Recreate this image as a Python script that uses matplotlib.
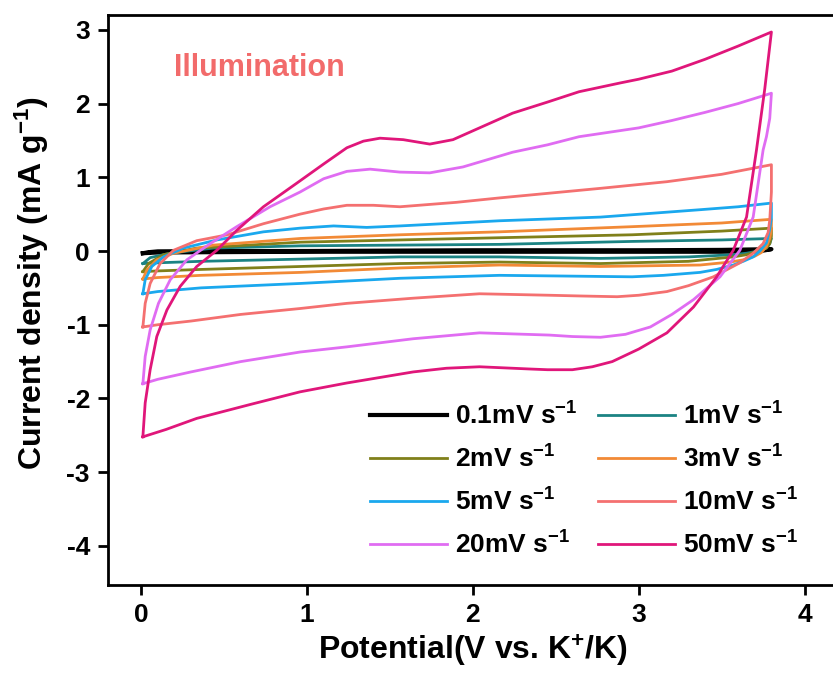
import matplotlib
matplotlib.use('Agg')
import matplotlib.pyplot as plt
import numpy as np

plt.rcParams['font.family'] = ['Liberation Sans', 'DejaVu Sans']
plt.rcParams['font.weight'] = 'bold'
plt.rcParams['axes.labelweight'] = 'bold'
plt.rcParams['axes.unicode_minus'] = False
plt.rcParams['mathtext.fontset'] = 'custom'
plt.rcParams['mathtext.rm'] = 'Liberation Sans:bold'
plt.rcParams['mathtext.bf'] = 'Liberation Sans:bold'
plt.rcParams['mathtext.default'] = 'rm'

# Данные: анодная (вверх) и катодная (вниз) ветви для каждой скорости развертки
labels = ['0.1mV s$^{-1}$', '1mV s$^{-1}$', '2mV s$^{-1}$', '3mV s$^{-1}$',
          '5mV s$^{-1}$', '10mV s$^{-1}$', '20mV s$^{-1}$', '50mV s$^{-1}$']
colors = ['#000000', '#1b8383', '#80801a', '#f28a36',
          '#1aa8ee', '#f47070', '#e06cf2', '#e0167a']

# 0.1 mV/s
up_x_01 = [0.01, 0.05, 0.1, 0.5, 1.0, 2.0, 3.0, 3.5, 3.8]
up_y_01 = [-0.03, -0.015, -0.005, 0.0, 0.0, 0.01, 0.01, 0.015, 0.025]
dn_x_01 = [3.8, 3.75, 3.7, 3.5, 3.0, 2.0, 1.0, 0.5, 0.1, 0.01]
dn_y_01 = [0.025, 0.005, -0.005, -0.01, -0.01, -0.01, -0.01, -0.015, -0.02, -0.03]

# 1 mV/s
up_x_1 = [0.01, 0.054, 0.175, 0.436, 0.96, 1.56, 2.16, 2.96, 3.5, 3.8]
up_y_1 = [-0.17, -0.09, -0.03, 0.04, 0.07, 0.08, 0.09, 0.13, 0.15, 0.17]
dn_x_1 = [3.8, 3.79, 3.77, 3.72, 3.65, 3.57, 3.3, 2.77, 2.16, 1.56, 0.96, 0.36, 0.1, 0.01]
dn_y_1 = [0.17, 0.1, 0.04, 0.0, -0.03, -0.05, -0.08, -0.1, -0.08, -0.08, -0.11, -0.14, -0.16, -0.17]

# 2 mV/s
up_x_2 = [0.01, 0.044, 0.134, 0.335, 0.96, 1.56, 2.16, 2.96, 3.5, 3.8]
up_y_2 = [-0.28, -0.17, -0.05, 0.04, 0.12, 0.15, 0.18, 0.22, 0.27, 0.31]
dn_x_2 = [3.8, 3.8, 3.79, 3.77, 3.72, 3.65, 3.57, 3.3, 2.77, 2.16, 1.56, 0.96, 0.36, 0.1, 0.01]
dn_y_2 = [0.31, 0.2, 0.1, 0.04, 0.0, -0.05, -0.08, -0.14, -0.17, -0.15, -0.17, -0.21, -0.25, -0.27, -0.28]

# 3 mV/s
up_x_3 = [0.01, 0.034, 0.094, 0.195, 0.436, 0.96, 1.56, 2.16, 2.96, 3.5, 3.8]
up_y_3 = [-0.38, -0.26, -0.12, -0.03, 0.08, 0.17, 0.22, 0.26, 0.33, 0.38, 0.43]
dn_x_3 = [3.8, 3.8, 3.79, 3.77, 3.74, 3.7, 3.63, 3.55, 3.37, 2.77, 2.16, 1.56, 0.96, 0.36, 0.1, 0.01]
dn_y_3 = [0.43, 0.3, 0.17, 0.06, -0.02, -0.07, -0.12, -0.15, -0.19, -0.21, -0.19, -0.23, -0.29, -0.33, -0.36, -0.38]

# 5 mV/s
up_x_5 = [0.01, 0.024, 0.064, 0.134, 0.255, 0.456, 0.737, 0.958, 1.16, 1.36, 1.56, 2.16,
          2.77, 3.37, 3.6, 3.8]
up_y_5 = [-0.58, -0.39, -0.21, -0.08, 0.04, 0.15, 0.26, 0.31, 0.34, 0.32, 0.34, 0.41,
          0.46, 0.56, 0.6, 0.65]
dn_x_5 = [3.8, 3.8, 3.79, 3.77, 3.73, 3.69, 3.63, 3.57, 3.47, 3.37, 3.15, 2.96, 2.57, 2.16,
          1.56, 0.96, 0.36, 0.1, 0.01]
dn_y_5 = [0.65, 0.45, 0.3, 0.11, 0.0, -0.08, -0.14, -0.19, -0.25, -0.29, -0.33, -0.35, -0.34,
          -0.33, -0.37, -0.44, -0.5, -0.55, -0.58]

# 10 mV/s
up_x_10 = [0.01, 0.024, 0.054, 0.114, 0.195, 0.335, 0.52, 0.737, 0.958, 1.1, 1.24, 1.4,
           1.56, 1.9, 2.16, 2.77, 3.17, 3.5, 3.8]
up_y_10 = [-1.03, -0.71, -0.44, -0.17, 0.01, 0.14, 0.22, 0.37, 0.5, 0.57, 0.62, 0.62,
           0.6, 0.66, 0.72, 0.85, 0.94, 1.04, 1.17]
dn_x_10 = [3.8, 3.8, 3.79, 3.78, 3.75, 3.69, 3.61, 3.45, 3.3, 3.17, 3.0, 2.87, 2.65, 2.46,
           2.04, 1.64, 1.24, 0.958, 0.6, 0.3, 0.1, 0.01]
dn_y_10 = [1.17, 0.8, 0.42, 0.25, 0.1, -0.03, -0.16, -0.35, -0.47, -0.55, -0.6, -0.62, -0.61,
           -0.6, -0.58, -0.64, -0.71, -0.78, -0.86, -0.95, -1.0, -1.03]

# 20 mV/s
up_x_20 = [0.01, 0.024, 0.054, 0.104, 0.175, 0.275, 0.416, 0.576, 0.777, 0.958, 1.1, 1.24,
           1.38, 1.56, 1.74, 1.94, 2.24, 2.45, 2.64, 3.0, 3.2, 3.4, 3.6, 3.8]
up_y_20 = [-1.8, -1.43, -1.07, -0.71, -0.39, -0.12, 0.1, 0.33, 0.6, 0.8, 0.98, 1.08,
           1.11, 1.07, 1.06, 1.14, 1.34, 1.44, 1.55, 1.67, 1.77, 1.88, 2.0, 2.14]
dn_x_20 = [3.8, 3.79, 3.77, 3.75, 3.69, 3.61, 3.49, 3.33, 3.2, 3.07, 2.92, 2.77, 2.6, 2.46,
           2.04, 1.64, 1.24, 0.958, 0.6, 0.3, 0.1, 0.01]
dn_y_20 = [2.14, 1.8, 1.55, 1.37, 0.46, 0.01, -0.35, -0.66, -0.86, -1.03, -1.13, -1.17, -1.16,
           -1.14, -1.11, -1.19, -1.3, -1.37, -1.5, -1.64, -1.74, -1.8]

# 50 mV/s
up_x_50 = [0.01, 0.024, 0.054, 0.094, 0.155, 0.235, 0.335, 0.456, 0.576, 0.737, 0.938,
           1.1, 1.24, 1.34, 1.44, 1.58, 1.74, 1.88, 2.04, 2.24, 2.45, 2.64, 2.89, 3.0,
           3.2, 3.4, 3.6, 3.8]
up_y_50 = [-2.52, -2.06, -1.61, -1.16, -0.8, -0.48, -0.21, 0.01, 0.28, 0.6, 0.92,
           1.18, 1.4, 1.49, 1.53, 1.51, 1.45, 1.51, 1.67, 1.87, 2.02, 2.16, 2.28, 2.33,
           2.44, 2.6, 2.78, 2.97]
dn_x_50 = [3.8, 3.76, 3.71, 3.65, 3.57, 3.47, 3.33, 3.17, 3.0, 2.84, 2.72, 2.6, 2.45, 2.34,
           2.04, 1.84, 1.64, 1.24, 0.958, 0.66, 0.335, 0.15, 0.01]
dn_y_50 = [2.97, 2.2, 1.37, 0.46, 0.01, -0.35, -0.76, -1.11, -1.33, -1.5, -1.57, -1.61, -1.61,
           -1.6, -1.57, -1.59, -1.64, -1.79, -1.91, -2.08, -2.27, -2.42, -2.52]

curves = [
    (up_x_01, up_y_01, dn_x_01, dn_y_01),
    (up_x_1, up_y_1, dn_x_1, dn_y_1),
    (up_x_2, up_y_2, dn_x_2, dn_y_2),
    (up_x_3, up_y_3, dn_x_3, dn_y_3),
    (up_x_5, up_y_5, dn_x_5, dn_y_5),
    (up_x_10, up_y_10, dn_x_10, dn_y_10),
    (up_x_20, up_y_20, dn_x_20, dn_y_20),
    (up_x_50, up_y_50, dn_x_50, dn_y_50),
]

fig = plt.figure(figsize=(8.33, 6.75), dpi=100)
ax = fig.add_axes([0.1297, 0.1333, 0.876, 0.8444])

lines = []
for (ux, uy, dx, dy), lab, col in zip(curves, labels, colors):
    lw = 3 if col == '#000000' else 2
    ln, = ax.plot(ux + dx, uy + dy, color=col, lw=lw, label=lab)
    lines.append(ln)

ax.set_xlim(-0.2, 4.2)
ax.set_ylim(-4.53, 3.2)
ax.set_xticks([0, 1, 2, 3, 4])
ax.set_yticks([-4, -3, -2, -1, 0, 1, 2, 3])
ax.tick_params(direction='out', length=7, width=2, labelsize=19, pad=6)
for s in ax.spines.values():
    s.set_linewidth(2)

ax.set_xlabel('Potential(V vs. K$^{+}$/K)', fontsize=23, fontweight='bold', labelpad=4)
ax.set_ylabel('Current density (mA g$^{-1}$)', fontsize=23, fontweight='bold')
ax.yaxis.set_label_coords(-0.078, 0.53)

ax.text(0.2, 2.48, 'Illumination', color='#f26b6b', fontsize=22,
        fontweight='bold', va='center', ha='left')

# легенда заполняется по строкам, как в оригинале
order = [0, 2, 4, 6, 1, 3, 5, 7]
ax.legend([lines[i] for i in order], [labels[i] for i in order],
          loc='lower right', bbox_to_anchor=(0.978, 0.005), ncol=2, frameon=False,
          fontsize=19, handlelength=2.9, handletextpad=0.3, columnspacing=0.8,
          labelspacing=0.6)

fig.savefig('out.png', dpi=100)
